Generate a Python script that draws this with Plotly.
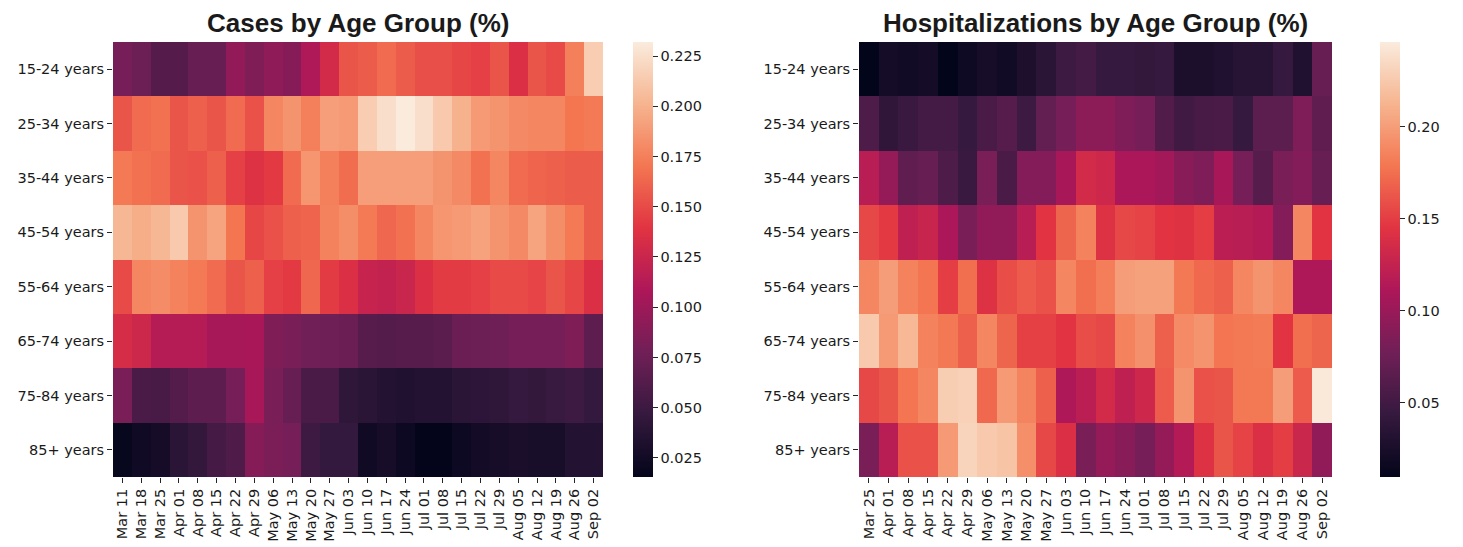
import plotly.graph_objects as go

age_groups = ["15-24 years", "25-34 years", "35-44 years", "45-54 years",
              "55-64 years", "65-74 years", "75-84 years", "85+ years"]

cases_weeks = ["Mar 11", "Mar 18", "Mar 25", "Apr 01", "Apr 08", "Apr 15", "Apr 22", "Apr 29",
               "May 06", "May 13", "May 20", "May 27", "Jun 03", "Jun 10", "Jun 17", "Jun 24",
               "Jul 01", "Jul 08", "Jul 15", "Jul 22", "Jul 29", "Aug 05", "Aug 12", "Aug 19",
               "Aug 26", "Sep 02"]

hosp_weeks = ["Mar 25", "Apr 01", "Apr 08", "Apr 15", "Apr 22", "Apr 29",
              "May 06", "May 13", "May 20", "May 27", "Jun 03", "Jun 10", "Jun 17", "Jun 24",
              "Jul 01", "Jul 08", "Jul 15", "Jul 22", "Jul 29", "Aug 05", "Aug 12", "Aug 19",
              "Aug 26", "Sep 02"]

cases_15_24 = [0.080, 0.075, 0.063, 0.063, 0.072, 0.072, 0.095, 0.085, 0.093, 0.088, 0.110, 0.130, 0.155,
               0.158, 0.165, 0.158, 0.152, 0.152, 0.148, 0.145, 0.155, 0.135, 0.155, 0.150, 0.175, 0.215]
cases_25_34 = [0.155, 0.165, 0.168, 0.155, 0.160, 0.155, 0.165, 0.153, 0.178, 0.185, 0.175, 0.190, 0.188,
               0.215, 0.225, 0.232, 0.225, 0.213, 0.200, 0.188, 0.185, 0.180, 0.178, 0.178, 0.170, 0.172]
cases_35_44 = [0.172, 0.168, 0.165, 0.155, 0.153, 0.160, 0.145, 0.137, 0.142, 0.165, 0.186, 0.175, 0.166,
               0.190, 0.190, 0.190, 0.190, 0.185, 0.180, 0.168, 0.178, 0.165, 0.162, 0.160, 0.158, 0.158]
cases_45_54 = [0.203, 0.198, 0.203, 0.213, 0.185, 0.193, 0.170, 0.148, 0.153, 0.160, 0.162, 0.176, 0.182,
               0.172, 0.163, 0.168, 0.178, 0.186, 0.188, 0.192, 0.185, 0.180, 0.193, 0.182, 0.172, 0.158]
cases_55_64 = [0.150, 0.178, 0.181, 0.176, 0.172, 0.165, 0.155, 0.160, 0.145, 0.142, 0.163, 0.143, 0.135,
               0.123, 0.120, 0.125, 0.135, 0.143, 0.143, 0.145, 0.150, 0.150, 0.147, 0.155, 0.148, 0.135]
cases_65_74 = [0.132, 0.127, 0.113, 0.113, 0.113, 0.105, 0.105, 0.107, 0.085, 0.082, 0.078, 0.076, 0.074,
               0.064, 0.062, 0.064, 0.064, 0.066, 0.074, 0.075, 0.076, 0.080, 0.080, 0.080, 0.085, 0.068]
cases_75_84 = [0.082, 0.058, 0.056, 0.062, 0.068, 0.068, 0.080, 0.106, 0.082, 0.072, 0.058, 0.058, 0.043,
               0.040, 0.036, 0.034, 0.035, 0.035, 0.040, 0.041, 0.043, 0.047, 0.045, 0.048, 0.050, 0.046]
cases_85p = [0.018, 0.024, 0.027, 0.040, 0.045, 0.055, 0.060, 0.088, 0.083, 0.080, 0.050, 0.046, 0.046,
             0.024, 0.028, 0.022, 0.016, 0.016, 0.022, 0.026, 0.028, 0.030, 0.029, 0.029, 0.036, 0.036]

hosp_15_24 = [0.010, 0.022, 0.020, 0.022, 0.010, 0.018, 0.024, 0.020, 0.028, 0.036, 0.048, 0.052,
              0.044, 0.044, 0.042, 0.044, 0.026, 0.026, 0.030, 0.034, 0.034, 0.044, 0.030, 0.072]
hosp_25_34 = [0.058, 0.040, 0.046, 0.052, 0.052, 0.044, 0.055, 0.062, 0.048, 0.070, 0.080, 0.092,
              0.092, 0.085, 0.080, 0.060, 0.050, 0.054, 0.056, 0.044, 0.066, 0.066, 0.085, 0.068]
hosp_35_44 = [0.118, 0.098, 0.068, 0.072, 0.058, 0.046, 0.082, 0.056, 0.088, 0.088, 0.108, 0.135,
              0.132, 0.110, 0.110, 0.105, 0.090, 0.085, 0.108, 0.080, 0.062, 0.082, 0.088, 0.072]
hosp_45_54 = [0.155, 0.148, 0.122, 0.128, 0.110, 0.082, 0.095, 0.095, 0.118, 0.145, 0.170, 0.185,
              0.142, 0.155, 0.153, 0.145, 0.143, 0.150, 0.120, 0.118, 0.115, 0.088, 0.188, 0.145]
hosp_55_64 = [0.188, 0.200, 0.185, 0.178, 0.150, 0.175, 0.142, 0.158, 0.165, 0.160, 0.188, 0.175,
              0.183, 0.200, 0.202, 0.202, 0.180, 0.172, 0.168, 0.188, 0.195, 0.188, 0.112, 0.112]
hosp_65_74 = [0.225, 0.198, 0.215, 0.185, 0.180, 0.168, 0.188, 0.170, 0.152, 0.152, 0.145, 0.158,
              0.155, 0.185, 0.193, 0.168, 0.190, 0.195, 0.178, 0.180, 0.182, 0.145, 0.175, 0.170]
hosp_75_84 = [0.155, 0.162, 0.178, 0.188, 0.228, 0.230, 0.172, 0.198, 0.186, 0.168, 0.112, 0.120,
              0.135, 0.122, 0.132, 0.165, 0.195, 0.160, 0.162, 0.180, 0.180, 0.200, 0.165, 0.244]
hosp_85p = [0.082, 0.118, 0.160, 0.160, 0.198, 0.232, 0.225, 0.222, 0.192, 0.155, 0.140, 0.082,
            0.098, 0.090, 0.080, 0.098, 0.115, 0.142, 0.162, 0.153, 0.140, 0.150, 0.130, 0.095]

cases_z = [cases_15_24, cases_25_34, cases_35_44, cases_45_54,
           cases_55_64, cases_65_74, cases_75_84, cases_85p]
hosp_z = [hosp_15_24, hosp_25_34, hosp_35_44, hosp_45_54,
          hosp_55_64, hosp_65_74, hosp_75_84, hosp_85p]

rocket = [
    [0.0, "#03051a"], [1/7, "#35193e"], [2/7, "#701f57"], [3/7, "#ad1759"],
    [4/7, "#e13342"], [5/7, "#f37651"], [6/7, "#f6b48f"], [1.0, "#faebdd"],
]

W, H = 1463, 547
def px_x(p): return p / W
def px_y(p): return 1 - p / H

top, bot = 42, 477
tick_font = dict(family="DejaVu Sans", size=14.5, color="#1a1a1a")

fig = go.Figure()
fig.add_trace(go.Heatmap(
    z=cases_z, x=cases_weeks, y=age_groups, colorscale=rocket,
    zmin=0.0155, zmax=0.232, xaxis="x", yaxis="y",
    colorbar=dict(x=px_x(633), xanchor="left", y=px_y(bot), yanchor="bottom",
                  len=(bot - top) / H, lenmode="fraction", thickness=20, outlinewidth=0,
                  xpad=0, ypad=0,
                  tickvals=[0.025, 0.05, 0.075, 0.1, 0.125, 0.15, 0.175, 0.2, 0.225],
                  ticktext=["0.025", "0.050", "0.075", "0.100", "0.125", "0.150", "0.175", "0.200", "0.225"],
                  ticks="outside", ticklen=5, tickcolor="#262626", tickfont=tick_font),
))
fig.add_trace(go.Heatmap(
    z=hosp_z, x=hosp_weeks, y=age_groups, colorscale=rocket,
    zmin=0.0098, zmax=0.246, xaxis="x2", yaxis="y2",
    colorbar=dict(x=px_x(1380), xanchor="left", y=px_y(bot), yanchor="bottom",
                  len=(bot - top) / H, lenmode="fraction", thickness=20, outlinewidth=0,
                  xpad=0, ypad=0,
                  tickvals=[0.05, 0.1, 0.15, 0.2],
                  ticktext=["0.05", "0.10", "0.15", "0.20"],
                  ticks="outside", ticklen=5, tickcolor="#262626", tickfont=tick_font),
))

axis_common = dict(showgrid=False, zeroline=False, ticks="outside", ticklen=5,
                   tickcolor="#262626", tickfont=tick_font, showline=False, automargin=False)

fig.update_layout(
    width=W, height=H,
    margin=dict(l=0, r=0, t=0, b=0, autoexpand=False),
    paper_bgcolor="white", plot_bgcolor="white",
    xaxis=dict(domain=[px_x(113), px_x(603)], anchor="y", tickangle=-90, **axis_common),
    yaxis=dict(domain=[px_y(bot), px_y(top)], anchor="x", autorange="reversed", **axis_common),
    xaxis2=dict(domain=[px_x(859), px_x(1332)], anchor="y2", tickangle=-90, **axis_common),
    yaxis2=dict(domain=[px_y(bot), px_y(top)], anchor="x2", autorange="reversed", **axis_common),
    annotations=[
        dict(text="<b>Cases by Age Group (%)</b>", x=(113 + 603) / 2 / W, y=px_y(23),
             xref="paper", yref="paper", showarrow=False, xanchor="center", yanchor="middle",
             font=dict(family="Liberation Sans", size=26, color="#1a1a1a")),
        dict(text="<b>Hospitalizations by Age Group (%)</b>", x=(859 + 1332) / 2 / W, y=px_y(23),
             xref="paper", yref="paper", showarrow=False, xanchor="center", yanchor="middle",
             font=dict(family="Liberation Sans", size=26, color="#1a1a1a")),
    ],
)

fig.write_html("out.html", config={"displayModeBar": False},
               post_script="document.body.style.margin='0px';")
